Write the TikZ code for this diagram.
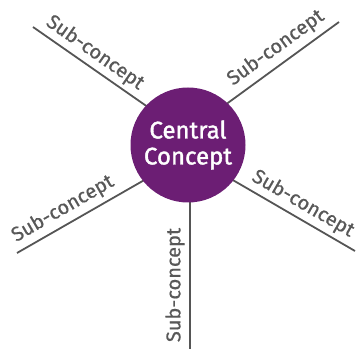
\documentclass[tikz,border=0pt]{standalone}
\usepackage{fontspec}
\setmainfont{Fira Sans}
\newfontfamily\subfont[FakeBold=0.6]{Fira Sans}
\newfontfamily\cfont[FakeBold=1.6]{Fira Sans}
\definecolor{cpurple}{RGB}{108,30,116}
\definecolor{linegray}{RGB}{85,85,85}
\definecolor{textgray}{RGB}{88,88,88}
\begin{document}
\begin{tikzpicture}[x=1pt,y=1pt,
  conn/.style={draw=linegray, line width=1.8pt},
  sublabel/.style={font=\subfont\fontsize{20}{22}\selectfont, text=textgray, inner sep=0pt},
  central/.style={circle, fill=cpurple, minimum size=115pt, inner sep=0pt, text=white,
    font=\cfont\fontsize{24}{26}\selectfont, align=center}]
\useasboundingbox (0,0) rectangle (357,349);
\coordinate (o1) at (33,322);
\coordinate (o2) at (339,327);
\coordinate (o3) at (17,96);
\coordinate (o4) at (355,98);
\coordinate (o5) at (190,0);
\coordinate (i1) at (188,214);
\coordinate (i2) at (188,217);
\coordinate (i3) at (188,194);
\coordinate (i4) at (188,195);
\coordinate (i5) at (190,204);
\draw[conn] (i1) -- (o1);
\draw[conn] (i2) -- (o2);
\draw[conn] (i3) -- (o3);
\draw[conn] (i4) -- (o4);
\draw[conn] (i5) -- (o5);
\node[central] (c) at (188,204) {Central\\Concept};
\node[sublabel, rotate=-35] (s1) at (95,296) {Sub-concept};
\node[sublabel, rotate=36] (s2) at (276,301) {Sub-concept};
\node[sublabel, rotate=30] (s3) at (63,140) {Sub-concept};
\node[sublabel, rotate=-30] (s4) at (303,145) {Sub-concept};
\node[sublabel, rotate=90] (s5) at (175,64) {Sub-concept};
\end{tikzpicture}
\end{document}
